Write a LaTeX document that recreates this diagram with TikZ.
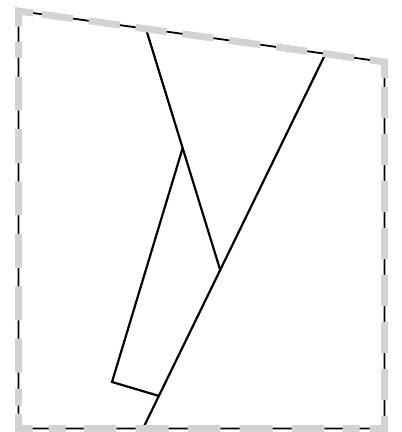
\documentclass[tikz,border=0pt]{standalone}
\usetikzlibrary{calc}
\definecolor{rimgray}{HTML}{D3D3D3}
\definecolor{ink}{HTML}{000000}
\tikzset{
  foldline/.style={line width=2.2pt,draw=ink},
  rimline/.style={line width=1.8pt,draw=ink},
  rimdashes/.style={line width=7pt,draw=rimgray,dash pattern=
    on 31.3pt off 16pt on 31.3pt off 16pt on 31.3pt off 16pt on 31.3pt off 16pt
    on 31.3pt off 16pt on 31.3pt off 16pt on 31.3pt off 16pt
    on 30.6pt off 9pt
    on 31.3pt off 15.7pt on 31.3pt off 15.7pt on 31.3pt off 15.7pt on 31.3pt off 15.7pt
    on 31.3pt off 15.7pt on 31.3pt off 15.7pt on 31.3pt off 15.7pt
    on 27.5pt off 10pt
    on 17pt off 18pt on 33pt off 19pt on 33pt off 19pt on 33pt off 19pt on 33pt off 19pt
    on 33pt off 18pt on 17pt off 16pt
    on 29pt off 8pt
    on 17pt off 16pt on 34pt off 18.4pt on 34pt off 18.4pt on 34pt off 18.4pt
    on 34pt off 18.4pt on 34pt off 18.4pt on 34pt off 19pt on 16pt off 15pt
    on 30.6pt off 9.1pt}
}

\begin{document}
\begin{tikzpicture}[x=1pt,y=-1pt,line cap=butt,line join=miter]
  \useasboundingbox (0,0) rectangle (402,432);
  % frame corners
  \coordinate (tl) at (18.5,11);
  \coordinate (tr) at (384.5,62);
  \coordinate (br) at (384.5,428.5);
  \coordinate (bl) at (18.5,428.5);
  % fold lines
  \coordinate (longtop) at (325.5,53.8);
  \coordinate (longbot) at (143,428.5);
  \coordinate (slanttop) at (146,29);
  \coordinate (knee) at ($(longtop)!0.577!(longbot)$);
  \coordinate (apex) at ($(slanttop)!0.494!(knee)$);
  \coordinate (heel) at (112,382);
  \coordinate (toe) at ($(longtop)!0.913!(longbot)$);
  \draw[foldline] (longtop)--(longbot);
  \draw[foldline] (slanttop)--(knee);
  \draw[foldline] (apex)--(heel)--(toe);
  % frame, solid under dashed
  \draw[rimline] (tl)--(tr)--(br)--(bl)--cycle;
  \draw[rimdashes] ($(tl)!0.064!(tr)$)--(tr)--(br)--(bl)--(tl)--cycle;
\end{tikzpicture}
\end{document}
